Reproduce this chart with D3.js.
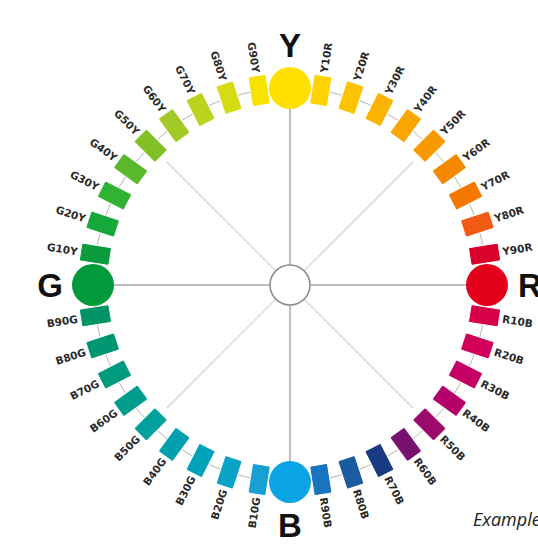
<!DOCTYPE html>
<html>
<head>
<meta charset="utf-8">
<script src="https://cdn.jsdelivr.net/npm/d3@7.9.0/dist/d3.min.js"></script>
<style>
  html, body { margin: 0; padding: 0; background: #fff; overflow: hidden; }
  svg { display: block; }
</style>
</head>
<body>
<svg width="538" height="553"></svg>
<script>
// hue names going clockwise from Y
const hues = [
  "Y", "Y10R", "Y20R", "Y30R", "Y40R", "Y50R", "Y60R", "Y70R", "Y80R", "Y90R",
  "R", "R10B", "R20B", "R30B", "R40B", "R50B", "R60B", "R70B", "R80B", "R90B",
  "B", "B10G", "B20G", "B30G", "B40G", "B50G", "B60G", "B70G", "B80G", "B90G",
  "G", "G10Y", "G20Y", "G30Y", "G40Y", "G50Y", "G60Y", "G70Y", "G80Y", "G90Y"
];
const hueColors = [
  "#ffe000", "#ffd200", "#fdc300", "#fbb400", "#f9a700", "#f89900", "#f68900", "#f47700", "#f05a14", "#d9002c",
  "#e2001a", "#d8004a", "#d10058", "#c50064", "#b5006a", "#9c0a6c", "#78106f", "#183a80", "#1c5a9e", "#1874be",
  "#0aa4e4", "#18a0d4", "#0aa2c6", "#00a2ba", "#00a0ae", "#00a09e", "#009c8e", "#009a80", "#009672", "#009466",
  "#009a3a", "#0a9c3c", "#16a83a", "#30b232", "#5ab82c", "#82c028", "#a2ca26", "#bcd31e", "#d6dc14", "#f8e200"
];
// primaries drawn as big dots and big letters
const primaries = ["Y", "R", "B", "G"];

const svg = d3.select("svg");
const cx = 290, cy = 285;
const ringR = 197;

const angle = d3.scaleLinear().domain([0, hues.length]).range([0, 360]);
const rad = d => (angle(d) * Math.PI) / 180;
const px = (i, r) => cx + r * Math.sin(rad(i));
const py = (i, r) => cy - r * Math.cos(rad(i));

// diagonal guide lines
[5, 15, 25, 35].forEach(i => {
  svg.append("line")
    .attr("x1", px(i, 20)).attr("y1", py(i, 20))
    .attr("x2", px(i, 174)).attr("y2", py(i, 174))
    .attr("stroke", "#d2d2d2").attr("stroke-width", 1.2);
});

// spokes to primaries
primaries.forEach(p => {
  const i = hues.indexOf(p);
  svg.append("line")
    .attr("x1", px(i, 20)).attr("y1", py(i, 20))
    .attr("x2", px(i, ringR)).attr("y2", py(i, ringR))
    .attr("stroke", "#a8a8a8").attr("stroke-width", 1.5);
});

// ring
svg.append("circle")
  .attr("cx", cx).attr("cy", cy).attr("r", ringR)
  .attr("fill", "none").attr("stroke", "#b5b5b5").attr("stroke-width", 1);

// centre circle
svg.append("circle")
  .attr("cx", cx).attr("cy", cy).attr("r", 20)
  .attr("fill", "#fff").attr("stroke", "#8a8a8a").attr("stroke-width", 1.5);

// swatches
hues.forEach((h, i) => {
  if (primaries.includes(h)) return;
  svg.append("rect")
    .attr("x", -15).attr("y", -9)
    .attr("width", 30).attr("height", 18)
    .attr("rx", 1.5)
    .attr("fill", hueColors[i])
    .attr("stroke", "#fff").attr("stroke-width", 1)
    .attr("transform", `translate(${px(i, ringR)},${py(i, ringR)}) rotate(${angle(i) - 90})`);
});

// primary dots
primaries.forEach(p => {
  const i = hues.indexOf(p);
  svg.append("circle")
    .attr("cx", px(i, ringR)).attr("cy", py(i, ringR)).attr("r", 21)
    .attr("fill", hueColors[i]);
  svg.append("text")
    .attr("x", px(i, 240)).attr("y", py(i, 240))
    .attr("text-anchor", "middle")
    .attr("dominant-baseline", "central")
    .attr("font-family", "Liberation Sans, Arial, sans-serif")
    .attr("font-weight", "bold")
    .attr("font-size", 33)
    .attr("fill", "#111")
    .text(p);
});

// hue labels
hues.forEach((h, i) => {
  if (primaries.includes(h)) return;
  const a = angle(i);
  const right = a < 180;
  svg.append("text")
    .attr("transform", `translate(${px(i, 215)},${py(i, 215)}) rotate(${right ? a - 90 : a + 90})`)
    .attr("text-anchor", right ? "start" : "end")
    .attr("dominant-baseline", "central")
    .attr("font-family", "DejaVu Sans, sans-serif")
    .attr("font-weight", "bold")
    .attr("font-size", 10.5)
    .attr("fill", "#2a2a2a")
    .text(h);
});

svg.append("text")
  .attr("x", 473).attr("y", 526)
  .attr("font-family", "Open Sans, sans-serif")
  .attr("font-style", "italic")
  .attr("font-size", 18)
  .attr("fill", "#222")
  .text("Example");
</script>
</body>
</html>
